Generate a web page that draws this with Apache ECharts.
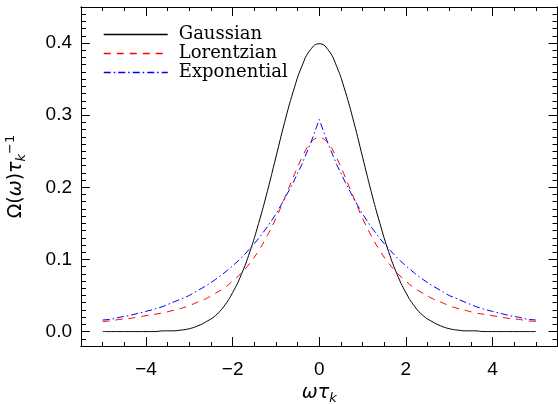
<!DOCTYPE html>
<html>
<head>
<meta charset="utf-8">
<script src="https://cdn.jsdelivr.net/npm/echarts@6/dist/echarts.min.js"></script>
<style>html,body{margin:0;padding:0;background:#fff}#c{width:558px;height:404px}</style>
</head>
<body>
<div id="c"></div>
<script>
// omega*tau_k sample positions
var xValues = [-5.0,-4.8,-4.6,-4.4,-4.2,-4.0,-3.8,-3.6,-3.4,-3.2,-3.0,-2.8,-2.6,-2.4,-2.2,-2.0,-1.8,-1.6,-1.4,-1.2,-1.0,-0.8,-0.6,-0.4,-0.2,0.0,
  0.2,0.4,0.6,0.8,1.0,1.2,1.4,1.6,1.8,2.0,2.2,2.4,2.6,2.8,3.0,3.2,3.4,3.6,3.8,4.0,4.2,4.4,4.6,4.8,5.0];
var gaussian = [0.000,0.000,0.000,0.000,0.000,0.000,0.000,0.001,0.001,0.002,0.004,0.008,0.014,0.022,0.035,0.054,0.079,0.111,0.150,0.194,0.242,0.290,0.333,0.368,0.391,0.399,
  0.391,0.368,0.333,0.290,0.242,0.194,0.150,0.111,0.079,0.054,0.035,0.022,0.014,0.008,0.004,0.002,0.001,0.001,0.000,0.000,0.000,0.000,0.000,0.000,0.000];
var lorentzian = [0.014,0.015,0.017,0.018,0.020,0.022,0.024,0.026,0.029,0.032,0.036,0.041,0.046,0.053,0.060,0.070,0.081,0.095,0.112,0.133,0.157,0.185,0.214,0.241,0.262,0.269,
  0.262,0.241,0.214,0.185,0.157,0.133,0.112,0.095,0.081,0.070,0.060,0.053,0.046,0.041,0.036,0.032,0.029,0.026,0.024,0.022,0.020,0.018,0.017,0.015,0.014];
var exponential = [0.016,0.017,0.020,0.022,0.025,0.028,0.031,0.035,0.040,0.045,0.050,0.057,0.064,0.072,0.081,0.091,0.102,0.115,0.129,0.145,0.163,0.184,0.207,0.232,0.261,0.294,
  0.261,0.232,0.207,0.184,0.163,0.145,0.129,0.115,0.102,0.091,0.081,0.072,0.064,0.057,0.050,0.045,0.040,0.035,0.031,0.028,0.025,0.022,0.020,0.017,0.016];
var seriesNames = ['Gaussian','Lorentzian','Exponential'];
var xRange = [-5.5, 5.5];
var yRange = [-0.02, 0.45];
var xMajorStep = 2, xMinorStep = 0.5;
var yMajorStep = 0.1, yMinorStep = 0.01;

var lineStyles = [
  {color:'#000000', width:1, type:'solid'},
  {color:'#ff0000', width:1, type:[7,6]},
  {color:'#0000ff', width:1, type:[7,3,1.5,3]}
];

function pairs(ys){ return xValues.map(function(x,i){ return [x, ys[i]]; }); }
function isMult(v, s){ var r = v / s; return Math.abs(r - Math.round(r)) < 1e-6; }

var chart = echarts.init(document.getElementById('c'), null, {renderer:'canvas'});
var black = '#000';
var tickFont = {color: black, fontFamily: 'Liberation Sans', fontSize: 19};

function xAxisDef(pos, major, withLabel){
  var a = {
    type:'value', position:pos, min:xRange[0], max:xRange[1], gridIndex:0,
    axisLine:{show:true, onZero:false, lineStyle:{color:black, width:1}},
    axisTick:{show:true, inside:true, length: major?9:4, lineStyle:{color:black, width:1}},
    splitLine:{show:false},
    axisLabel:{show:withLabel}
  };
  if (major) { a.splitNumber = 5; } else { a.interval = xMinorStep; }
  if (withLabel) {
    a.axisLabel = Object.assign({show:true, margin:14, formatter:function(v){
      if (!isMult(v, xMajorStep)) return '';
      var s = String(Math.round(v)); return s.replace('-', '\u2212');
    }}, tickFont);
    a.name = '{g|\u03c9\u03c4}{sub|k}';
    a.nameLocation = 'middle';
    a.nameGap = 32;
    a.nameTextStyle = {rich:{
      g:{fontFamily:'DejaVu Sans', fontStyle:'italic', fontSize:19, color:black},
      sub:{fontFamily:'DejaVu Sans', fontStyle:'italic', fontSize:13, color:black, padding:[10,0,0,0]}
    }};
  }
  return a;
}
function yAxisDef(pos, major, withLabel){
  var a = {
    type:'value', position:pos, min:yRange[0], max:yRange[1], gridIndex:0,
    axisLine:{show:true, onZero:false, lineStyle:{color:black, width:1}},
    axisTick:{show:true, inside:true, length: major?9:5, lineStyle:{color:black, width:1}},
    splitLine:{show:false},
    axisLabel:{show:withLabel}
  };
  if (major) { a.splitNumber = 5; } else { a.interval = yMinorStep; }
  if (withLabel) {
    a.axisLabel = Object.assign({show:true, margin:9, formatter:function(v){
      if (!isMult(v, yMajorStep)) return '';
      return v.toFixed(1);
    }}, tickFont);
    a.name = '{o|\u03a9(}{g|\u03c9}{o|)}{g|\u03c4}{sub|k}{sup|\u22121}';
    a.nameLocation = 'middle';
    a.nameRotate = 90;
    a.nameGap = 52;
    a.nameTextStyle = {rich:{
      o:{fontFamily:'DejaVu Sans', fontSize:19, color:black},
      g:{fontFamily:'DejaVu Sans', fontStyle:'italic', fontSize:19, color:black},
      sub:{fontFamily:'DejaVu Sans', fontStyle:'italic', fontSize:13, color:black, padding:[10,0,0,0]},
      sup:{fontFamily:'DejaVu Sans', fontSize:13, color:black, padding:[0,0,12,0]}
    }};
  }
  return a;
}

var option = {
  animation:false,
  backgroundColor:'#fff',
  grid:{left:81, right:0.5, top:7, bottom:58, containLabel:false, outerBoundsMode:'none'},
  legend:{
    orient:'vertical', left:103, top:25.5, padding:0,
    itemWidth:64, itemHeight:11, itemGap:1,
    data:seriesNames.map(function(n, i){
      return {name:n, itemStyle:{opacity:0},
        lineStyle:{color:lineStyles[i].color, width:1.5, type:lineStyles[i].type}};
    }),
    textStyle:{fontFamily:'DejaVu Serif', fontSize:18, color:black, lineHeight:17, padding:[0,0,0,6]},
    selectedMode:false
  },
  xAxis:[xAxisDef('bottom', true, true), xAxisDef('bottom', false, false), xAxisDef('top', true, false), xAxisDef('top', false, false)],
  yAxis:[yAxisDef('left', true, true), yAxisDef('left', false, false), yAxisDef('right', true, false), yAxisDef('right', false, false)],
  series:[
    {name:seriesNames[0], type:'line', xAxisIndex:0, yAxisIndex:0, data:pairs(gaussian), symbol:'none', smooth:0.5,
      lineStyle:lineStyles[0], itemStyle:{color:lineStyles[0].color}},
    {name:seriesNames[1], type:'line', xAxisIndex:0, yAxisIndex:0, data:pairs(lorentzian), symbol:'none', smooth:0.4,
      lineStyle:lineStyles[1], itemStyle:{color:lineStyles[1].color}},
    {name:seriesNames[2], type:'line', xAxisIndex:0, yAxisIndex:0, data:pairs(exponential), symbol:'none',
      lineStyle:lineStyles[2], itemStyle:{color:lineStyles[2].color}}
  ]
};
chart.setOption(option);
</script>
</body>
</html>
